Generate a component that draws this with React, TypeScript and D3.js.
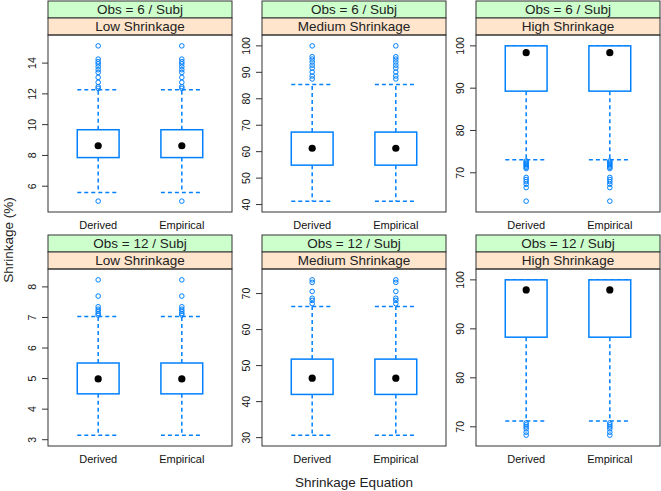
import React from 'react';
import { scaleLinear, extent } from 'd3';

// categories and labels
const equations = ['Derived', 'Empirical'];
const obsLabels = ['Obs = 6 / Subj', 'Obs = 12 / Subj'];
const shrinkLabels = ['Low Shrinkage', 'Medium Shrinkage', 'High Shrinkage'];

// [lower whisker, q1, median, q3, upper whisker] per shrinkage level
const stats6 = [
  [5.59, 7.86, 8.63, 9.67, 12.27],
  [41.3, 54.9, 61.3, 67.4, 85.4],
  [73.1, 89.3, 98.4, 100, 100],
];
const stats12 = [
  [3.15, 4.5, 4.99, 5.51, 7.03],
  [30.7, 42.0, 46.5, 51.8, 66.4],
  [71.2, 88.3, 97.95, 100, 100],
];

const outliers6 = [
  [15.12, 14.26, 14.09, 13.95, 13.76, 13.57, 13.39, 13.07, 12.75, 12.47, 12.36, 5.03],
  [100, 95.9, 95.0, 93.9, 92.7, 91.6, 90.1, 88.6, 87.5],
  [72.8, 72.5, 72.2, 71.9, 71.6, 71.3, 71.0, 68.9, 68.4, 67.9, 67.3, 66.5, 63.3],
];
const outliers12 = [
  [8.23, 7.7, 7.35, 7.27, 7.2, 7.13, 7.08],
  [73.8, 73.1, 70.6, 68.7, 68.1, 67.2],
  [70.8, 70.4, 70.0, 69.6, 68.9, 68.3],
];

const ticks6 = [
  [6, 8, 10, 12, 14],
  [40, 50, 60, 70, 80, 90, 100],
  [70, 80, 90, 100],
];
const ticks12 = [
  [3, 4, 5, 6, 7, 8],
  [30, 40, 50, 60, 70],
  [70, 80, 90, 100],
];

const W = 661;
const H = 491;
const panelW = 184;
const stripH = 17;
const plotH = 177;
const colLeft = [48, 262, 476];
const rowTop = [1, 235];

const blue = '#0080ff';
const font = 'Liberation Sans, Arial, sans-serif';

const Panel = ({ row, col }) => {
  const stats = row === 0 ? stats6[col] : stats12[col];
  const outs = row === 0 ? outliers6[col] : outliers12[col];
  const ticks = row === 0 ? ticks6[col] : ticks12[col];

  const left = colLeft[col];
  const top = rowTop[row];
  const plotTop = top + stripH * 2;
  const plotBottom = plotTop + plotH;

  // lattice style limits: data range padded 7% each side
  const [lo, hi] = extent([...stats, ...outs]);
  const pad = (hi - lo) * 0.07;
  const y = scaleLinear().domain([lo - pad, hi + pad]).range([plotBottom, plotTop]);
  const x = scaleLinear().domain([0.4, 2.6]).range([left, left + panelW]);
  const halfBox = (x(1.25) - x(0.75)) / 2;

  return (
    <g>
      <rect x={left} y={top} width={panelW} height={stripH} fill="#ccffcc" stroke="#333" />
      <text x={left + panelW / 2} y={top + 13} textAnchor="middle" fontSize={13.5} fill="#222">
        {obsLabels[row]}
      </text>
      <rect x={left} y={top + stripH} width={panelW} height={stripH} fill="#ffe5cc" stroke="#333" />
      <text x={left + panelW / 2} y={top + stripH + 13} textAnchor="middle" fontSize={13.5} fill="#222">
        {shrinkLabels[col]}
      </text>
      <rect x={left} y={plotTop} width={panelW} height={plotH} fill="none" stroke="#333" />

      {ticks.map((t) => (
        <g key={t}>
          <line x1={left - 6} x2={left} y1={y(t)} y2={y(t)} stroke="#333" />
          <text
            transform={`translate(${left - 12},${y(t)}) rotate(-90)`}
            textAnchor="middle"
            fontSize={10.5}
            fill="#111"
          >
            {t}
          </text>
        </g>
      ))}

      {equations.map((eq, i) => {
        const cx = x(i + 1);
        const [wLo, q1, med, q3, wHi] = stats;
        return (
          <g key={eq}>
            <line x1={cx} x2={cx} y1={y(q1)} y2={y(wLo)} stroke={blue} strokeWidth={1.5} strokeDasharray="4,3" />
            <line x1={cx} x2={cx} y1={y(q3)} y2={y(wHi)} stroke={blue} strokeWidth={1.5} strokeDasharray="4,3" />
            <line x1={cx - halfBox} x2={cx + halfBox} y1={y(wLo)} y2={y(wLo)} stroke={blue} strokeWidth={1.5} strokeDasharray="4,3" />
            <line x1={cx - halfBox} x2={cx + halfBox} y1={y(wHi)} y2={y(wHi)} stroke={blue} strokeWidth={1.5} strokeDasharray="4,3" />
            <rect
              x={cx - halfBox}
              y={y(q3)}
              width={halfBox * 2}
              height={y(q1) - y(q3)}
              fill="white"
              stroke={blue}
              strokeWidth={1.5}
            />
            <circle cx={cx} cy={y(med)} r={3.6} fill="black" />
            {outs.map((o, k) => (
              <circle key={k} cx={cx} cy={y(o)} r={2.3} fill="none" stroke={blue} strokeWidth={1} />
            ))}
            <text x={cx} y={plotBottom + 17} textAnchor="middle" fontSize={11} fill="#111">
              {eq}
            </text>
          </g>
        );
      })}
    </g>
  );
};

const App = () => {
  return (
    <svg
      width={W}
      height={H}
      style={{ position: 'absolute', left: 0, top: 0, background: 'white' }}
      fontFamily={font}
    >
      <rect width={W} height={H} fill="white" />
      {[0, 1].map((r) => [0, 1, 2].map((c) => <Panel key={`${r}-${c}`} row={r} col={c} />))}
      <text x={354} y={487} textAnchor="middle" fontSize={13.5} fill="#222">
        Shrinkage Equation
      </text>
      <text transform="translate(13,240) rotate(-90)" textAnchor="middle" fontSize={13.5} fill="#222">
        Shrinkage (%)
      </text>
    </svg>
  );
};

export default App;
